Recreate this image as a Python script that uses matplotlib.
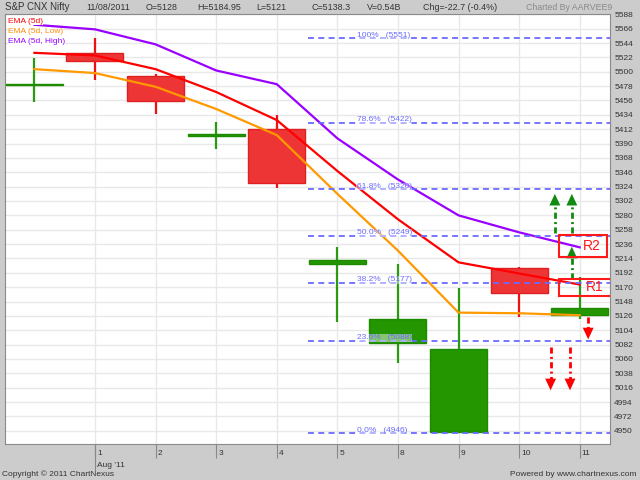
import matplotlib
matplotlib.use('Agg')
import numpy as np
import matplotlib.pyplot as plt
from matplotlib.patches import Rectangle

plt.rcParams['font.family'] = ['Liberation Sans', 'DejaVu Sans']

# daily candles, 29 Jul .. 11 Aug 2011
day_labels = ['', '1', '2', '3', '4', '5', '8', '9', '10', '11']
opens = [5479, 5529, 5493, 5402, 5413, 5205, 5084, 4948, 5199, 5128]
highs = [5521, 5551, 5496, 5423, 5434, 5232, 5205, 5168, 5201, 5184.95]
lows = [5454, 5487, 5435, 5381, 5322, 5117, 5054, 4946, 5124, 5121]
closes = [5482, 5516, 5455, 5404, 5330, 5211, 5121, 5075, 5161, 5138.3]

ema_5d = [5529, 5525, 5504, 5469, 5426, 5348, 5274, 5208, 5191, 5174]
ema_low = [5504, 5498, 5477, 5443, 5403, 5313, 5226, 5131, 5130, 5127]
ema_high = [5572, 5565, 5542, 5502, 5481, 5398, 5335, 5280, 5254, 5231]

fib_pct = ['100%', '78.6%', '61.8%', '50.0%', '38.2%', '23.6%', '0.0%']
fib_val = [5551, 5422, 5320, 5249, 5177, 5088, 4946]

# resistance boxes: label, x0, x1, y0, y1
boxes = [('R2', 8.66, 9.45, 5216, 5250), ('R1', 8.66, 9.52, 5156, 5183)]
# arrows: x, start, tip
up_arrows = [(8.59, 5253, 5313), (8.87, 5253, 5313), (8.87, 5183, 5232)]
down_arrows = [(8.52, 5078, 5012), (8.84, 5078, 5012), (9.14, 5124, 5090)]

BG = '#cccccc'
RED_BODY = '#ee3535'
GREEN = '#239600'
FIB = '#6b6bff'


def draw_arrow(ax, x, y0, y1, color):
    head = 17 if y1 > y0 else -17
    ax.plot([x, x], [y0, y1 - head], color=color, lw=2,
            ls=(0, (2.2, 1.2, 0.7, 1.2)), zorder=7, solid_capstyle='butt')
    ax.annotate('', xy=(x, y1), xytext=(x, y1 - head),
                arrowprops=dict(arrowstyle='-|>,head_length=0.6,head_width=0.28',
                                mutation_scale=14, color=color, lw=0,
                                shrinkA=0, shrinkB=0), zorder=7)


def main():
    fig = plt.figure(figsize=(6.4, 4.8), dpi=100, facecolor=BG)
    ax = fig.add_axes([5 / 640, 36 / 480, 605 / 640, 430 / 480])
    ax.set_facecolor('white')

    n = len(opens)
    xs = np.arange(n)

    for i in range(n):
        up = closes[i] >= opens[i]
        face = GREEN if up else RED_BODY
        edge = '#1e8a00' if up else '#e02020'
        wick = '#2a9a10' if up else '#ee1111'
        ax.vlines(i, lows[i], highs[i], color=wick, lw=1.6, zorder=3)
        lo = min(opens[i], closes[i])
        ax.add_patch(Rectangle((i - 0.47, lo), 0.94, abs(closes[i] - opens[i]),
                               facecolor=face, edgecolor=edge, lw=1, zorder=4))

    ax.plot(xs, ema_high, color='#9900ff', lw=1.6, zorder=5)
    ax.plot(xs, ema_5d, color='#ff0000', lw=1.6, zorder=5)
    ax.plot(xs, ema_low, color='#ff9900', lw=1.6, zorder=5)

    for pct, val in zip(fib_pct, fib_val):
        ax.plot([4.51, 9.6], [val, val], color=FIB, lw=1.3, ls=(0, (3.3, 2.4)), zorder=6)
        ax.annotate(f'{pct}   ({val})', xy=(5.32, val), xytext=(0, -0.5),
                    textcoords='offset points', va='bottom', ha='left',
                    fontsize=6, color=FIB, zorder=6,
                    bbox=dict(facecolor='white', alpha=0.45, edgecolor='none', pad=0.3))

    for name, x0, x1, y0, y1 in boxes:
        ax.add_patch(Rectangle((x0, y0), x1 - x0, y1 - y0, facecolor='none',
                               edgecolor='#ff1a1a', lw=1.5, zorder=8))
        ax.text(x0 + 0.68 * (x1 - x0), (y0 + y1) / 2, name, color='#ff1a1a',
                fontsize=10, ha='center', va='center', zorder=8)

    for x, y0, y1 in up_arrows:
        draw_arrow(ax, x, y0, y1, '#118a11')
    for x, y0, y1 in down_arrows:
        draw_arrow(ax, x, y0, y1, '#ff0000')

    ax.set_xlim(-0.485, 9.5)
    ax.set_ylim(4929.7, 5588.5)

    ax.yaxis.tick_right()
    ax.set_yticks(np.arange(4950, 5589, 22))
    ax.tick_params(axis='y', length=0, pad=3, labelsize=6, labelcolor='#333333')
    ax.set_xticks(xs[1:])
    ax.set_xticklabels([])
    ax.tick_params(axis='x', length=10, width=0.8, color='#888888')
    ax.grid(True, color='#e8e8e8', lw=1)
    ax.set_axisbelow(True)
    for sp in ax.spines.values():
        sp.set_color('#8a8a8a')
        sp.set_linewidth(0.8)

    tr = ax.get_xaxis_transform()
    for i in range(1, n):
        ax.annotate(day_labels[i], xy=(i, 0), xycoords=tr, xytext=(1.5, -4),
                    textcoords='offset points', ha='left', va='top', fontsize=6,
                    color='#333333')
    ax.plot([1, 1], [0, -0.06], transform=tr, color='#888888', lw=0.8, clip_on=False)
    ax.annotate("Aug '11", xy=(1, 0), xycoords=tr, xytext=(1.5, -13),
                textcoords='offset points', ha='left', va='top', fontsize=6,
                color='#333333')

    # legend
    for k, (txt, col) in enumerate([('EMA (5d)', '#ff0000'), ('EMA (5d, Low)', '#ff8c00'),
                                    ('EMA (5d, High)', '#9900ff')]):
        ax.text(0.005, 0.982 - k * 0.0235, txt, transform=ax.transAxes, color=col,
                fontsize=6, ha='left', va='center', zorder=9,
                bbox=dict(facecolor='white', edgecolor='none', pad=0.2))

    # header
    hy = 1 - 7 / 480
    fig.text(5 / 640, hy, 'S&P CNX Nifty', fontsize=7, color='#333333', va='center', ha='left')
    header = [(86, '11/08/2011'), (146, 'O=5128'), (197, 'H=5184.95'), (256, 'L=5121'),
              (312, 'C=5138.3'), (367, 'V=0.54B'), (423, 'Chg=-22.7 (-0.4%)')]
    for px, txt in header:
        fig.text(px / 640, hy, txt, fontsize=6.4, color='#333333', va='center', ha='left')
    fig.text(526 / 640, hy, 'Charted By AARVEE9', fontsize=6.3, color='#8a8a8a',
             va='center', ha='left')

    fig.text(2 / 640, 6 / 480, 'Copyright \u00a9 2011 ChartNexus', fontsize=6,
             color='#333333', va='center', ha='left')
    fig.text(637 / 640, 6 / 480, 'Powered by www.chartnexus.com', fontsize=6,
             color='#333333', va='center', ha='right')

    fig.savefig('out.png', dpi=100, facecolor=BG)


if __name__ == "__main__":
    main()
